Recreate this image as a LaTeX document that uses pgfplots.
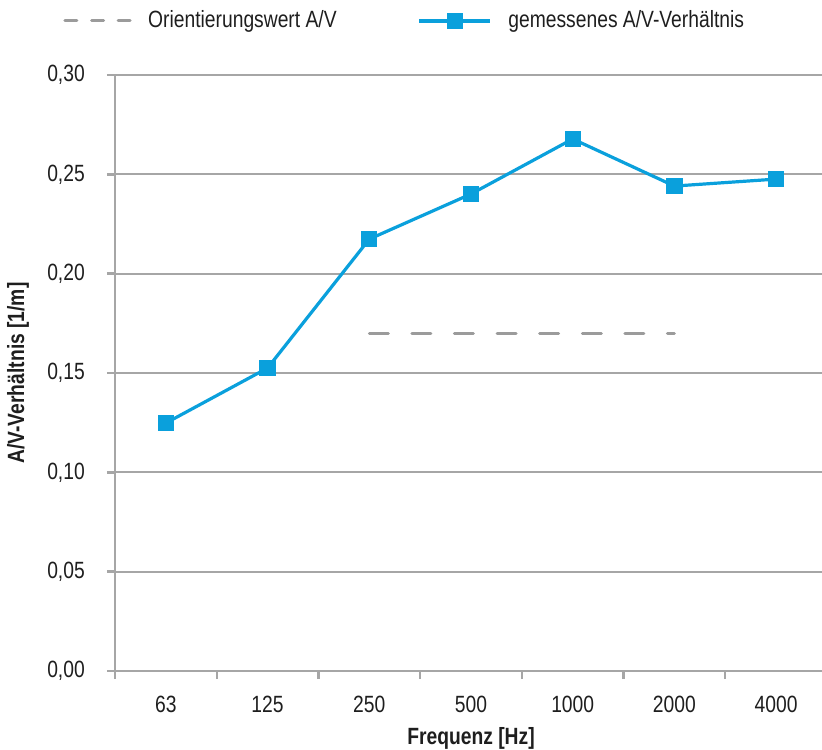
\documentclass[border=0pt]{standalone}
\usepackage{fontspec}
\setmainfont[FakeStretch=0.82]{Liberation Sans}
\usepackage{pgfplots}
\pgfplotsset{compat=1.18}
\definecolor{avblue}{RGB}{10,160,220}
\definecolor{gridgray}{RGB}{166,166,166}
\definecolor{dashgray}{RGB}{155,155,155}
\definecolor{txt}{RGB}{30,30,30}
\pgfplotsset{
 dashlegend/.style={legend image code/.code={
   \draw[##1, solid] (0.75pt,0pt) -- (6.75pt,0pt);
   \draw[##1, solid] (14.1pt,0pt) -- (20.1pt,0pt);
   \draw[##1, solid] (27.4pt,0pt) -- (33.4pt,0pt);}},
 marklegend/.style={legend image code/.code={\draw[mark repeat=2, mark phase=2, ##1] plot coordinates {(0pt,0pt) (17.75pt,0pt) (35.5pt,0pt)};}},
}
\begin{document}
\fontsize{11.75}{14}\selectfont
\begin{tikzpicture}
\begin{axis}[
 scale only axis, width=356pt, height=298pt,
 xmin=-0.5, xmax=6.5, ymin=0, ymax=0.3,
 axis x line*=bottom, axis y line*=left,
 axis line style={gridgray, line width=1.2pt},
 x tick label as interval,
 xtick={-0.5,0.5,...,6.5},
 xticklabels={63,125,250,500,1000,2000,4000},
 ytick={0,0.05,0.1,0.15,0.2,0.25,0.3},
 yticklabels={{0,00},{0,05},{0,10},{0,15},{0,20},{0,25},{0,30}},
 tick align=outside, major tick length=4pt,
 tick style={gridgray, line width=1.2pt},
 ymajorgrids, grid style={gridgray, line width=1.1pt},
 ticklabel style={font=\fontsize{11.75}{14}\selectfont, text=txt},
 yticklabel style={xshift=-7pt},
 xticklabel style={yshift=-4.3pt},
 xlabel={\bfseries Frequenz [Hz]},
 ylabel={\bfseries A/V-Verhältnis [1/m]},
 label style={font=\fontsize{11.75}{14}\selectfont, text=txt},
 xlabel style={at={([yshift=-33.5pt]axis description cs:0.5,0)}, anchor=center},
 ylabel style={at={([xshift=-48.5pt]axis description cs:0,0.5)}, anchor=center},
 legend columns=2,
 legend style={draw=none, fill=none, at={(0,1)}, anchor=west, xshift=-26pt, yshift=27pt,
   inner sep=0pt, column sep=8.25pt, nodes={inner sep=0pt, font=\fontsize{11.75}{14}\selectfont, text=txt},
   /tikz/every even column/.append style={column sep=40.5pt}},
]
\addplot[dashgray, line width=1.5pt, line cap=round, dash pattern=on 9.5pt off 11.8pt, dashlegend]
  coordinates {(2,0.17) (5,0.17)};
\addlegendentry{Orientierungswert A/V}
\addplot[avblue, line width=1.6pt, mark=square*, mark size=3.25pt, mark options={solid, fill=avblue}, marklegend]
  coordinates {(0,0.1248) (1,0.1525) (2,0.2174) (3,0.2401) (4,0.2678) (5,0.2441) (6,0.2476)};
\addlegendentry{gemessenes A/V-Verhältnis}
\end{axis}
\pgfresetboundingbox
\path[use as bounding box] (-57.5pt,-39pt) rectangle (353.5pt,335.5pt);
\end{tikzpicture}
\end{document}
